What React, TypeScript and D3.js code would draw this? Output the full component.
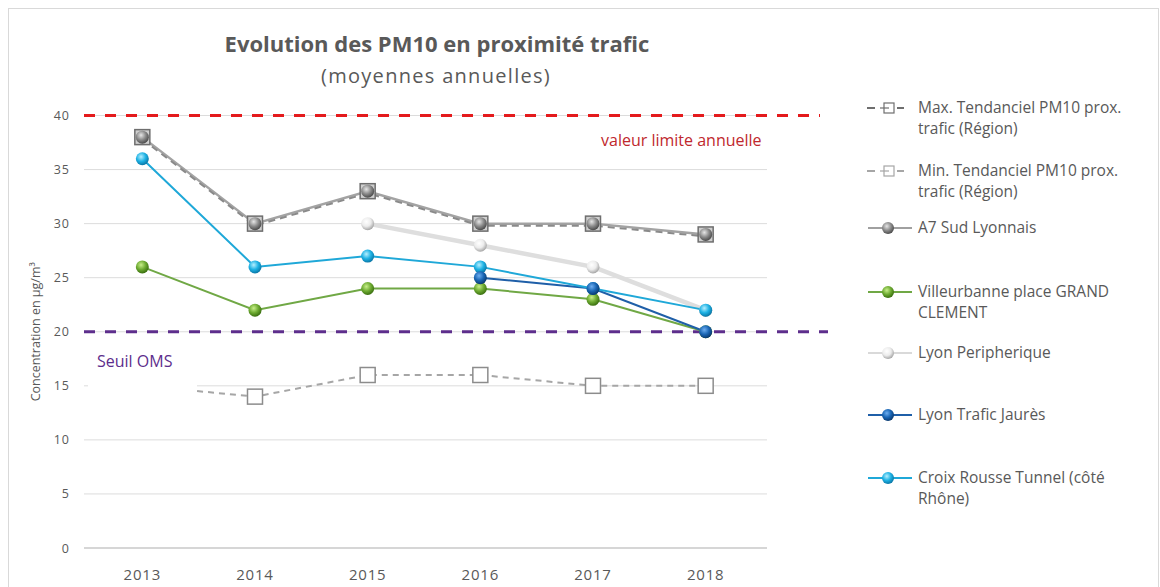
import React from 'react';
import * as d3 from 'd3';

const years = ['2013', '2014', '2015', '2016', '2017', '2018'];
const yTicks = [0, 5, 10, 15, 20, 25, 30, 35, 40];

const maxTrend = [38, 30, 33, 30, 30, 29];
const minTrend = [15, 14, 16, 16, 15, 15];
const a7Sud = [38, 30, 33, 30, 30, 29];
const villeurbanne = [26, 22, 24, 24, 23, 20];
const lyonPeripherique = [null, null, 30, 28, 26, 22];
const lyonJaures = [null, null, null, 25, 24, 20];
const croixRousse = [36, 26, 27, 26, 24, 22];

const limitValue = 40;
const omsValue = 20;

const FONT = '"Open Sans", "DejaVu Sans", sans-serif';

type Pt = { year: string; v: number | null };
const toPts = (vals: (number | null)[]): Pt[] => vals.map((v, i) => ({ year: years[i], v }));

const App = () => {
  const width = 1160;
  const height = 587;

  const x = d3.scaleBand().domain(years).range([86, 762]);
  const cx = (yr: string) => (x(yr) as number) + x.bandwidth() / 2;
  const y = d3.scaleLinear().domain([0, 40]).range([548, 115.5]);

  const line = d3.line<Pt>()
    .defined(d => d.v !== null)
    .x(d => cx(d.year))
    .y(d => y(d.v as number));

  const spheres: { id: string; hi: string; mid: string; lo: string }[] = [
    { id: 'gray', hi: '#e6e6e6', mid: '#8c8c8c', lo: '#4d4d4d' },
    { id: 'green', hi: '#c8ef8a', mid: '#6eab32', lo: '#3b7010' },
    { id: 'navy', hi: '#6eaef0', mid: '#1a66b5', lo: '#0a3a70' },
    { id: 'cyan', hi: '#b5efff', mid: '#1eb2e4', lo: '#0a78a8' },
    { id: 'white', hi: '#ffffff', mid: '#ececec', lo: '#a8a8a8' },
  ];

  const dots = (vals: (number | null)[], grad: string, r = 6.5) =>
    toPts(vals).filter(d => d.v !== null).map((d, i) => (
      <circle key={grad + i} cx={cx(d.year)} cy={y(d.v as number)} r={r}
        fill={`url(#sph-${grad})`} />
    ));

  // le premier point du min est masqué par l'étiquette "Seuil OMS"
  const squares = (vals: (number | null)[], fill: string, stroke: string, key: string, skip: string[] = []) =>
    toPts(vals).filter(d => d.v !== null && !skip.includes(d.year)).map((d, i) => (
      <rect key={key + i} x={cx(d.year) - 7.5} y={y(d.v as number) - 7.5} width={15} height={15}
        fill={fill} stroke={stroke} strokeWidth={1.5} />
    ));

  // legende
  const legendItems = [
    { lines: ['Max. Tendanciel PM10 prox.', 'trafic (Région)'], y: 113, kind: 'max' },
    { lines: ['Min. Tendanciel PM10 prox.', 'trafic (Région)'], y: 176, kind: 'min' },
    { lines: ['A7 Sud Lyonnais'], y: 233, kind: 'gray', color: '#a0a0a0' },
    { lines: ['Villeurbanne place GRAND', 'CLEMENT'], y: 297, kind: 'green', color: '#70a845' },
    { lines: ['Lyon Peripherique'], y: 358, kind: 'white', color: '#d9d9d9' },
    { lines: ['Lyon Trafic Jaurès'], y: 420, kind: 'navy', color: '#1f5fa8' },
    { lines: ['Croix Rousse Tunnel (côté', 'Rhône)'], y: 483, kind: 'cyan', color: '#1fa8d8' },
  ];

  return (
    <svg width={width} height={height} style={{ position: 'absolute', left: 0, top: 0, background: '#fff' }}>
      <defs>
        {spheres.map(s => (
          <radialGradient key={s.id} id={`sph-${s.id}`} cx="0.4" cy="0.35" r="0.65">
            <stop offset="0%" stopColor={s.hi} />
            <stop offset="55%" stopColor={s.mid} />
            <stop offset="100%" stopColor={s.lo} />
          </radialGradient>
        ))}
      </defs>

      <rect x={8.5} y={8.5} width={1150} height={600} fill="#fff" stroke="#d9d9d9" />

      <text x={437} y={52} textAnchor="middle" fontFamily={FONT} fontSize={22} fontWeight={700} fill="#595959">
        Evolution des PM10 en proximité trafic
      </text>
      <text x={436} y={83} textAnchor="middle" fontFamily={FONT} fontSize={20} letterSpacing={1.3} fill="#595959">
        (moyennes annuelles)
      </text>

      {/* grille */}
      {yTicks.map(t => (
        <g key={t}>
          <line x1={84} x2={767} y1={y(t)} y2={y(t)} stroke={t === 0 ? '#c8c8c8' : '#dcdcdc'} strokeWidth={t === 0 ? 1.5 : 1} />
          <text x={70} y={y(t) + 4.5} textAnchor="end" fontFamily={FONT} fontSize={12.5} letterSpacing={1} fill="#595959">{t}</text>
        </g>
      ))}
      {years.map(yr => (
        <text key={yr} x={cx(yr)} y={580} textAnchor="middle" fontFamily={FONT} fontSize={15} letterSpacing={0.8} fill="#595959">{yr}</text>
      ))}

      <text transform={`translate(40,${y(20)}) rotate(-90)`} textAnchor="middle" fontFamily={FONT} fontSize={12.5} fill="#595959">
        Concentration en µg/m³
      </text>

      {/* seuils */}
      <line x1={84} x2={820} y1={y(limitValue)} y2={y(limitValue)} stroke="#e41a1c" strokeWidth={3} strokeDasharray="11 10" />
      <line x1={84} x2={828} y1={y(omsValue)} y2={y(omsValue)} stroke="#5d2e8c" strokeWidth={3} strokeDasharray="11 10" />

      {/* series */}
      <path d={line(toPts(minTrend)) || ''} fill="none" stroke="#a6a6a6" strokeWidth={2} strokeDasharray="6 5" />
      <path d={line(toPts(lyonPeripherique)) || ''} fill="none" stroke="#dedede" strokeWidth={4.5} />
      <path d={line(toPts(a7Sud)) || ''} fill="none" stroke="#a3a3a3" strokeWidth={2.5} />
      <path d={line(toPts(maxTrend)) || ''} fill="none" stroke="#8a8a8a" strokeWidth={2} strokeDasharray="7 5" transform="translate(0,2)" />
      <path d={line(toPts(villeurbanne)) || ''} fill="none" stroke="#70a845" strokeWidth={2} />
      <path d={line(toPts(lyonJaures)) || ''} fill="none" stroke="#1f5fa8" strokeWidth={2} />
      <path d={line(toPts(croixRousse)) || ''} fill="none" stroke="#1fa8d8" strokeWidth={2} />

      {squares(minTrend, '#ffffff', '#8c8c8c', 'min', ['2013'])}
      {squares(maxTrend, '#cfcfcf', '#6e6e6e', 'max')}
      {dots(a7Sud, 'gray')}
      {dots(lyonPeripherique, 'white')}
      {dots(villeurbanne, 'green')}
      {dots(croixRousse, 'cyan')}
      {dots(lyonJaures, 'navy')}

      {/* etiquettes des seuils */}
      <rect x={88} y={344} width={109} height={52} fill="#fff" />
      <text x={97} y={367} fontFamily={FONT} fontSize={16} fill="#5d2e8c">Seuil OMS</text>
      <text x={601} y={146} fontFamily={FONT} fontSize={16} fill="#c0282d">valeur limite annuelle</text>

      {legendItems.map(it => (
        <g key={it.lines[0]}>
          {it.kind === 'max' || it.kind === 'min' ? (
            <g stroke={it.kind === 'max' ? '#6e6e6e' : '#a6a6a6'} strokeWidth={2}>
              <line x1={867} x2={875} y1={it.y - 5} y2={it.y - 5} />
              <line x1={897} x2={904} y1={it.y - 5} y2={it.y - 5} />
              <rect x={884} y={it.y - 10} width={10} height={10} fill="#fff" strokeWidth={1.2} />
              <line x1={880} x2={889} y1={it.y - 5} y2={it.y - 5} strokeWidth={1.2} />
            </g>
          ) : (
            <g>
              <line x1={868} x2={912} y1={it.y - 5} y2={it.y - 5} stroke={it.color} strokeWidth={2} />
              <circle cx={888} cy={it.y - 5} r={6} fill={`url(#sph-${it.kind})`} />
            </g>
          )}
          {it.lines.map((l, i) => (
            <text key={i} x={918} y={it.y + i * 21} fontFamily={FONT} fontSize={15.5} fill="#595959">{l}</text>
          ))}
        </g>
      ))}
    </svg>
  );
};

export default App;
